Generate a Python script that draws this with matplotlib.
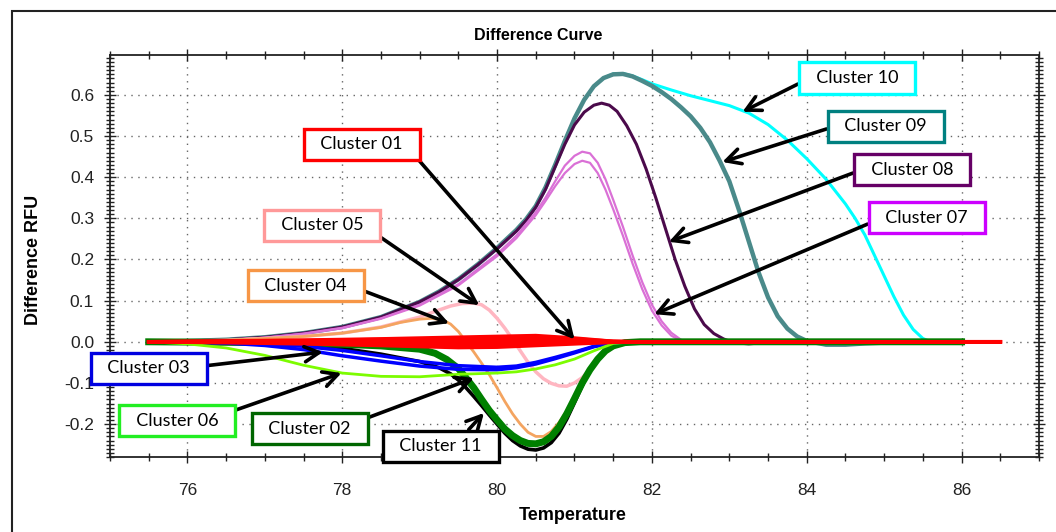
import numpy as np
import matplotlib
matplotlib.use("Agg")
import matplotlib.pyplot as plt
from matplotlib.ticker import MultipleLocator, FormatStrFormatter
from matplotlib.patches import Rectangle

# ---- data (temperature, difference RFU) ----
t_c10 = [75.5, 76.0, 76.5, 77.0, 77.5, 78.0, 78.5, 79.0, 79.25, 79.5, 79.75, 80.0, 80.25, 80.375, 80.5,
         80.625, 80.75, 80.875, 81.0, 81.125, 81.25, 81.375, 81.5, 81.625, 81.75, 81.875, 82.0, 82.25,
         82.5, 82.75, 83.0, 83.25, 83.5, 83.75, 84.0, 84.25, 84.5, 84.625, 84.75, 84.875, 85.0, 85.125,
         85.25, 85.375, 85.5, 85.625, 85.75, 86.0]
y_c10 = [0, 0.002, 0.005, 0.011, 0.021, 0.036, 0.06, 0.097, 0.122, 0.152, 0.188, 0.228, 0.272, 0.298, 0.33,
         0.375, 0.43, 0.488, 0.543, 0.588, 0.621, 0.641, 0.651, 0.652, 0.646, 0.637, 0.627, 0.612,
         0.598, 0.586, 0.574, 0.556, 0.528, 0.49, 0.445, 0.395, 0.335, 0.30, 0.26, 0.21, 0.16, 0.11,
         0.065, 0.03, 0.008, -0.002, -0.004, 0]

t_c09 = [75.5, 76.0, 76.5, 77.0, 77.5, 78.0, 78.5, 79.0, 79.25, 79.5, 79.75, 80.0, 80.25, 80.375, 80.5,
         80.625, 80.75, 80.875, 81.0, 81.125, 81.25, 81.375, 81.5, 81.625, 81.75, 81.875, 82.0, 82.125,
         82.25, 82.375, 82.5, 82.625, 82.75, 82.875, 83.0, 83.125, 83.25, 83.375, 83.5, 83.625, 83.75,
         83.875, 84.0, 84.25, 84.5, 84.75, 85.25, 86.0]
y_c09 = [0, 0.002, 0.005, 0.011, 0.021, 0.036, 0.06, 0.097, 0.122, 0.152, 0.188, 0.228, 0.272, 0.298, 0.33,
         0.375, 0.43, 0.488, 0.543, 0.588, 0.621, 0.641, 0.65, 0.651, 0.645, 0.634, 0.622, 0.607,
         0.59, 0.57, 0.548, 0.52, 0.485, 0.44, 0.39, 0.32, 0.245, 0.17, 0.108, 0.062, 0.032,
         0.013, 0.002, -0.007, -0.007, -0.004, 0, 0]

t_c08 = [75.5, 76.0, 76.5, 77.0, 77.5, 78.0, 78.5, 79.0, 79.25, 79.5, 79.75, 80.0, 80.25, 80.375, 80.5,
         80.625, 80.75, 80.875, 81.0, 81.125, 81.25, 81.35, 81.45, 81.55, 81.675, 81.8, 81.925, 82.05,
         82.175, 82.3, 82.425, 82.55, 82.675, 82.8, 82.925, 83.05, 83.25, 83.6, 86.0]
y_c08 = [0, 0.002, 0.005, 0.011, 0.021, 0.036, 0.06, 0.097, 0.121, 0.151, 0.187, 0.226, 0.269, 0.295, 0.327,
         0.37, 0.425, 0.48, 0.527, 0.558, 0.575, 0.58, 0.575, 0.56, 0.525, 0.48, 0.42, 0.35,
         0.275, 0.2, 0.135, 0.08, 0.042, 0.02, 0.007, -0.002, -0.005, 0, 0]

t_c07 = [75.5, 76.0, 76.5, 77.0, 77.5, 78.0, 78.5, 79.0, 79.5, 80.0, 80.25, 80.5, 80.625, 80.75, 80.875,
         81.0, 81.1, 81.2, 81.3, 81.4, 81.5, 81.625, 81.75, 81.875, 82.0, 82.125, 82.25, 82.375, 82.5,
         82.75, 83.0, 86.0]
y_c07a = [0, 0.002, 0.004, 0.01, 0.02, 0.034, 0.057, 0.09, 0.14, 0.213, 0.258, 0.315, 0.35, 0.39, 0.428,
          0.452, 0.462, 0.458, 0.435, 0.395, 0.345, 0.28, 0.21, 0.145, 0.09, 0.05, 0.022, 0.005, -0.004,
          -0.004, 0, 0]
y_c07b = [0, 0.002, 0.004, 0.01, 0.019, 0.033, 0.056, 0.088, 0.137, 0.208, 0.252, 0.308, 0.342, 0.378, 0.41,
          0.432, 0.44, 0.435, 0.41, 0.37, 0.322, 0.258, 0.19, 0.128, 0.076, 0.04, 0.015, 0.002, -0.004,
          -0.004, 0, 0]

t_c05 = [75.5, 76.5, 77.0, 77.5, 78.0, 78.5, 79.0, 79.2, 79.4, 79.55, 79.7, 79.8, 79.9, 80.0, 80.1,
         80.2, 80.3, 80.4, 80.5, 80.6, 80.7, 80.8, 80.9, 81.0, 81.1, 81.2, 81.3, 81.4, 81.5, 81.6,
         81.75, 86.0]
y_c05 = [0, 0.004, 0.008, 0.013, 0.021, 0.036, 0.06, 0.074, 0.087, 0.093, 0.094, 0.09, 0.077, 0.057, 0.033,
         0.006, -0.022, -0.05, -0.073, -0.09, -0.101, -0.107, -0.108, -0.1, -0.087, -0.068, -0.046, -0.027,
         -0.013, -0.005, 0, 0]

t_c04 = [75.5, 76.5, 77.0, 77.5, 78.0, 78.5, 78.75, 79.0, 79.15, 79.3, 79.4, 79.5, 79.6, 79.7, 79.8,
         79.9, 80.0, 80.1, 80.2, 80.3, 80.4, 80.5, 80.6, 80.7, 80.8, 80.9, 81.0, 81.1, 81.2, 81.3,
         81.4, 81.5, 81.65, 81.85, 86.0]
y_c04 = [0, 0.004, 0.008, 0.013, 0.021, 0.035, 0.047, 0.055, 0.057, 0.053, 0.043, 0.025, 0.0, -0.025, -0.052,
         -0.08, -0.112, -0.145, -0.175, -0.2, -0.22, -0.23, -0.23, -0.218, -0.196, -0.168, -0.133, -0.097,
         -0.065, -0.04, -0.021, -0.009, -0.002, 0, 0]

t_c11 = [75.5, 76.5, 77.0, 77.5, 78.0, 78.5, 79.0, 79.25, 79.4, 79.5, 79.6, 79.7, 79.8, 79.9, 80.0,
         80.1, 80.2, 80.3, 80.4, 80.5, 80.6, 80.7, 80.8, 80.9, 81.0, 81.1, 81.2, 81.3, 81.4, 81.5,
         81.65, 81.85, 86.0]
y_c11 = [0, -0.001, -0.003, -0.008, -0.016, -0.03, -0.048, -0.063, -0.078, -0.093, -0.112, -0.133, -0.155,
         -0.178, -0.2, -0.222, -0.24, -0.253, -0.261, -0.263, -0.258, -0.245, -0.222, -0.188, -0.148, -0.107,
         -0.07, -0.042, -0.022, -0.009, -0.002, 0, 0]

t_c02 = [75.5, 77.0, 78.0, 78.5, 79.0, 79.2, 79.35, 79.5, 79.6, 79.7, 79.8, 79.9, 80.0, 80.1, 80.2,
         80.3, 80.4, 80.5, 80.6, 80.7, 80.8, 80.9, 81.0, 81.1, 81.2, 81.3, 81.4, 81.5, 81.65, 81.85, 86.0]
y_c02 = [0, -0.002, -0.006, -0.01, -0.018, -0.028, -0.043, -0.065, -0.088, -0.112, -0.14, -0.167, -0.19,
         -0.212, -0.228, -0.24, -0.247, -0.248, -0.243, -0.23, -0.207, -0.175, -0.138, -0.1, -0.068, -0.042,
         -0.022, -0.01, -0.002, 0, 0]

t_c03 = [75.5, 76.5, 77.0, 77.5, 78.0, 78.5, 79.0, 79.5, 80.0, 80.25, 80.5, 80.75, 81.0, 81.25, 81.5, 81.75, 86.0]
y_c03a = [0, -0.003, -0.009, -0.019, -0.034, -0.047, -0.059, -0.067, -0.068, -0.063, -0.054, -0.041, -0.027,
          -0.012, -0.002, 0, 0]
y_c03b = [0, -0.002, -0.005, -0.011, -0.021, -0.034, -0.048, -0.058, -0.062, -0.059, -0.05, -0.038, -0.025,
          -0.011, -0.002, 0, 0]

t_c06 = [75.5, 76.0, 76.5, 77.0, 77.5, 78.0, 78.5, 79.0, 79.5, 80.0, 80.25, 80.5, 80.75, 81.0, 81.25, 81.5, 81.75, 86.0]
y_c06 = [0, -0.005, -0.015, -0.033, -0.057, -0.076, -0.084, -0.085, -0.079, -0.076, -0.073, -0.066, -0.056,
         -0.042, -0.022, -0.004, 0, 0]

t_c01 = [75.5, 76.5, 77.5, 78.5, 79.5, 80.0, 80.5, 81.0, 81.25, 81.5, 81.75, 86.5]
y_c01 = [
    [0, 0.002, 0.004, 0.007, 0.011, 0.013, 0.015, 0.009, 0.005, 0.001, 0, 0],
    [0, 0.0015, 0.003, 0.0055, 0.0085, 0.01, 0.011, 0.007, 0.004, 0.001, 0, 0],
    [0, 0.001, 0.002, 0.003, 0.004, 0.005, 0.006, 0.004, 0.002, 0.0005, 0, 0],
    [0, 0, 0, 0, 0, 0, 0, 0, 0, 0, 0, 0],
    [0, -0.001, -0.003, -0.005, -0.007, -0.007, -0.005, -0.003, -0.002, -0.001, 0, 0],
    [0, -0.002, -0.005, -0.009, -0.014, -0.013, -0.009, -0.005, -0.003, -0.001, 0, 0],
]

# label, box edge colour, text centre (T, RFU), arrow head (T, RFU), tail point on box
labels = ["Cluster 10", "Cluster 09", "Cluster 08", "Cluster 07", "Cluster 01", "Cluster 05",
          "Cluster 04", "Cluster 03", "Cluster 06", "Cluster 02", "Cluster 11"]
box_colors = ["#00FFFF", "#008080", "#660066", "#CC00FF", "#FF0000", "#FF9999",
              "#F79646", "#0000E0", "#22EE22", "#006600", "#000000"]
text_xy = [(84.65, 0.641), (85.02, 0.524), (85.36, 0.418), (85.55, 0.302), (78.25, 0.48), (77.74, 0.283),
           (77.53, 0.136), (75.5, -0.064), (75.87, -0.192), (77.58, -0.211), (79.27, -0.254)]
head_xy = [(83.17, 0.559), (82.91, 0.437), (82.22, 0.243), (82.03, 0.067), (81.0, 0.006), (79.77, 0.089),
           (79.38, 0.045), (77.75, -0.025), (77.99, -0.076), (79.7, -0.088), (79.83, -0.173)]
tail_rel = [(0, 0.4), (0, 0.5), (0, 0.5), (0, 0.32), (1, 0), (1, 0.1),
            (1, 0.36), (1, 0.6), (1, 1), (1, 1), (0.7, 1)]

fig = plt.figure(figsize=(10.56, 5.32), dpi=100)
ax = fig.add_axes([110 / 1056, 75 / 532, 929 / 1056, 402 / 532])

ax.plot(t_c10, y_c10, color="#00FFFF", lw=2.2, zorder=2)
ax.plot(t_c09, y_c09, color="#4A8A8A", lw=3.2, zorder=3)
ax.plot(t_c08, y_c08, color="#4B0A4B", lw=2.2, zorder=3)
ax.plot(t_c07, y_c07a, color="#DA70D6", lw=1.6, zorder=3)
ax.plot(t_c07, y_c07b, color="#DA70D6", lw=1.6, zorder=3)
ax.plot(t_c05, y_c05, color="#FFB6C1", lw=2.5, zorder=3)
ax.plot(t_c04, y_c04, color="#F4A460", lw=2.0, zorder=3)
ax.plot(t_c11, y_c11, color="#000000", lw=2.6, zorder=3)
ax.plot(t_c02, y_c02, color="#008000", lw=5.0, zorder=4)
ax.plot(t_c03, y_c03a, color="#0000FF", lw=2.5, zorder=4)
ax.plot(t_c03, y_c03b, color="#0000FF", lw=2.5, zorder=4)
ax.plot(t_c06, y_c06, color="#7CFC00", lw=2.0, zorder=4)
for yr in y_c01:
    ax.plot(t_c01, yr, color="#FF0000", lw=2.6, zorder=5)

ax.set_xlim(75, 87)
ax.set_ylim(-0.28, 0.697)
ax.set_xticks(np.arange(76, 87, 2))
ax.xaxis.set_minor_locator(MultipleLocator(0.5))
ax.set_yticks(np.arange(-0.2, 0.65, 0.1))
ax.yaxis.set_minor_locator(MultipleLocator(0.01))
ax.yaxis.set_major_formatter(FormatStrFormatter("%.1f"))
ax.tick_params(which="both", direction="inout", top=True, right=True, colors="#222222",
               labelsize=12.5, labelcolor="#222222")
ax.tick_params(which="major", length=9, width=1)
ax.tick_params(which="minor", length=6, width=1)
ax.tick_params(axis="x", which="major", pad=14)
ax.tick_params(axis="y", which="major", pad=7)
for lab in ax.get_xticklabels() + ax.get_yticklabels():
    lab.set_fontfamily("Liberation Sans")
ax.grid(True, which="major", linestyle=(0, (1, 4)), color="#666666", lw=1)
for s in ax.spines.values():
    s.set_linewidth(1.3)
    s.set_color("#222222")

ax.set_xlabel("Temperature", fontsize=13, fontweight="bold", family="Liberation Sans")
ax.set_ylabel("Difference RFU", fontsize=13, fontweight="bold", family="Liberation Sans")
ax.xaxis.set_label_coords((573 - 110) / 929, -(515 - 457) / 402)
ax.xaxis.label.set_va("center")
ax.yaxis.set_label_coords(-(110 - 33) / 929, (457 - 260) / 402)
ax.yaxis.label.set_va("center")
fig.text(538 / 1056, 1 - 36 / 532, "Difference Curve", ha="center", va="center",
         fontsize=11.5, fontweight="bold", family="Liberation Sans")

for lab, col, txy, hxy, rel in zip(labels, box_colors, text_xy, head_xy, tail_rel):
    ax.annotate("  " + lab + "  ", xy=hxy, xytext=txy, textcoords="data",
                ha="center", va="center", fontsize=13, family="Lato", zorder=10,
                annotation_clip=False,
                bbox=dict(boxstyle="square,pad=0.42", fc="white", ec=col, lw=2.4),
                arrowprops=dict(arrowstyle="->,head_length=0.8,head_width=0.42", color="black",
                                lw=2.6, relpos=rel, shrinkA=0, shrinkB=0))

# outer frame around the picture
fig.add_artist(Rectangle((12 / 1056, -0.1), 1.2, 1 - 11 / 532 + 0.1, transform=fig.transFigure,
                         fill=False, ec="#222222", lw=1.5))

fig.savefig("out.png", dpi=100)
